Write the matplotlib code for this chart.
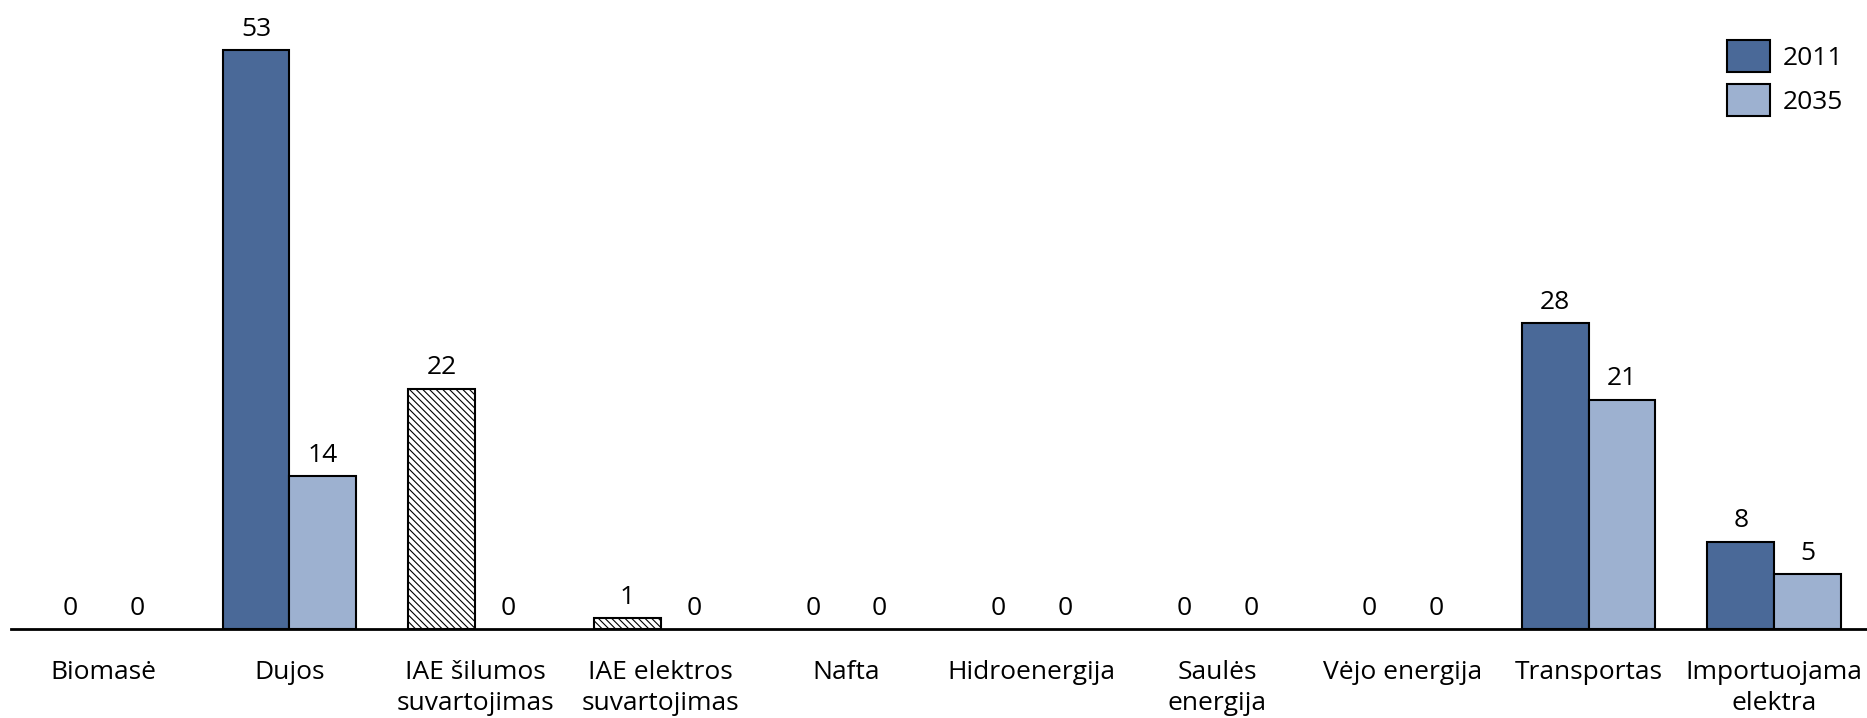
import matplotlib
matplotlib.use("Agg")
import matplotlib.pyplot as plt
import numpy as np
from matplotlib.patches import Patch

plt.rcParams['font.family'] = ['Open Sans', 'DejaVu Sans']
plt.rcParams['hatch.linewidth'] = 0.8

categories = ["Biomasė", "Dujos", "IAE šilumos\nsuvartojimas", "IAE elektros\nsuvartojimas",
              "Nafta", "Hidroenergija", "Saulės\nenergija", "Vėjo energija",
              "Transportas", "Importuojama\nelektra"]
values_2011 = [0, 53, 22, 1, 0, 0, 0, 0, 28, 8]
values_2035 = [0, 14, 0, 0, 0, 0, 0, 0, 21, 5]
hatched_2011 = [False, False, True, True, False, False, False, False, False, False]

color_2011 = "#4A6998"
color_2035 = "#9DB1D0"
fs = 19

fig = plt.figure(figsize=(18.67, 7.18), dpi=100)
ax = fig.add_axes([11 / 1867, (718 - 629) / 718, 1 - 11 / 1867, 629 / 718])

x = np.arange(len(categories))
w = 0.36

for i in range(len(categories)):
    if values_2011[i] > 0:
        if hatched_2011[i]:
            ax.bar(x[i] - w / 2, values_2011[i], w, facecolor="white", edgecolor="black",
                   hatch="\\\\\\\\\\", linewidth=1.5, zorder=2)
        else:
            ax.bar(x[i] - w / 2, values_2011[i], w, facecolor=color_2011, edgecolor="black",
                   linewidth=1.5, zorder=2)
    if values_2035[i] > 0:
        ax.bar(x[i] + w / 2, values_2035[i], w, facecolor=color_2035, edgecolor="black",
               linewidth=1.5, zorder=2)

for i in range(len(categories)):
    for xv, v in ((x[i] - w / 2, values_2011[i]), (x[i] + w / 2, values_2035[i])):
        ax.annotate(f"{v}", (xv, v), xytext=(0, 6), textcoords="offset points",
                    ha="center", va="bottom", fontsize=fs)

ax.set_xlim(-0.5, len(categories) - 0.5)
ax.set_ylim(0, 629 / (579 / 53))
ax.set_xticks(x)
ax.set_xticklabels(categories, fontsize=fs, linespacing=1.32)
ax.tick_params(axis="x", length=0, pad=22)
ax.set_yticks([])
for s in ("top", "right", "left"):
    ax.spines[s].set_visible(False)
ax.spines["bottom"].set_linewidth(2)
ax.spines["bottom"].set_zorder(3)

handles = [Patch(facecolor=color_2011, edgecolor="black", linewidth=1.5),
           Patch(facecolor=color_2035, edgecolor="black", linewidth=1.5)]
ax.legend(handles, ["2011", "2035"], loc="upper right", bbox_to_anchor=(0.996, 0.962),
          frameon=False, fontsize=fs, handlelength=1.65, handleheight=1.5,
          handletextpad=0.5, labelspacing=0.45, borderaxespad=0.2)

fig.savefig("out.png", dpi=100)
